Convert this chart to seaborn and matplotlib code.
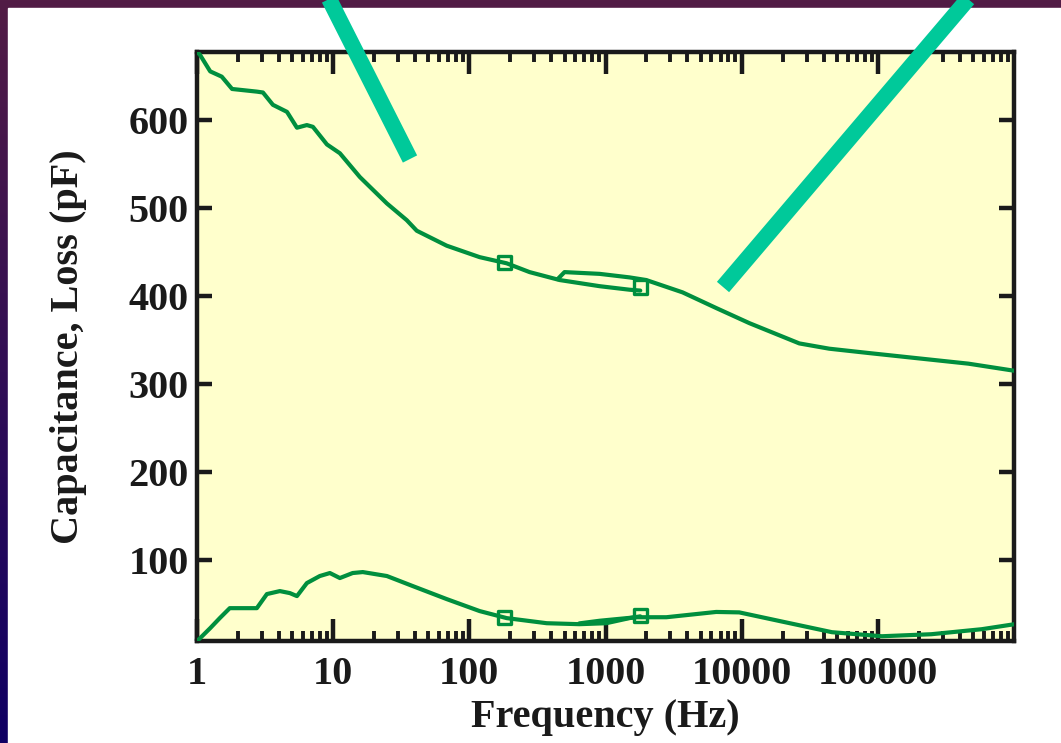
import numpy as np
import pandas as pd
import matplotlib
matplotlib.use("Agg")
import matplotlib.pyplot as plt
from matplotlib.lines import Line2D
from matplotlib.patches import Rectangle
from matplotlib.colors import LinearSegmentedColormap
from matplotlib.ticker import FixedLocator, LogLocator, NullFormatter, FixedFormatter
import seaborn as sns

# capacitance, low-frequency sweep (Hz, pF)
cap_lo_freq = [1.0, 1.05, 1.25, 1.52, 1.81, 2.75, 3.05, 3.61, 4.58, 5.42, 6.41, 7.10,
               9.0, 11.2, 15.7, 24.8, 34.7, 41.1, 68.2, 119, 188, 277, 460, 906, 1500, 1800]
cap_lo_val = [677, 674, 655, 649, 635, 632, 631, 617, 609, 591, 594, 592,
              572, 562, 535, 505, 486, 474, 457, 444, 437, 427, 418, 411, 407, 406]

# capacitance, high-frequency sweep
cap_hi_freq = [445, 500, 906, 1500, 1990, 3680, 6540, 11400, 26500, 44000, 86700,
               200000, 463000, 1000000]
cap_hi_val = [419, 427, 425, 421, 418, 404, 386, 369, 346, 340, 335, 329, 323, 315]

# loss, low-frequency sweep
loss_lo_freq = [1.0, 1.05, 1.25, 1.47, 1.74, 2.45, 2.75, 3.26, 4.06, 4.81, 5.42, 6.41,
                7.98, 9.46, 11.2, 13.9, 16.5, 24.8, 38.4, 68.2, 119, 188, 370, 642,
                1012, 1500, 1800]
loss_lo_val = [8, 11, 22.6, 34, 45.3, 45.3, 45.3, 61.3, 64.7, 62.4, 59, 73.8,
               81.8, 85.2, 79.5, 85.2, 86.3, 81.8, 70.4, 55.6, 42, 34, 28.2, 27.1,
               28.2, 34, 36]

# loss, high-frequency sweep
loss_hi_freq = [642, 906, 1680, 2800, 6500, 9600, 19900, 46000, 107000, 247000,
                580000, 1000000]
loss_hi_val = [28, 31, 35, 35, 41, 40.5, 30, 18, 13.4, 15.7, 21.4, 27]

# overlap points marked with squares
mark_freq = [180, 1800, 180, 1800]
mark_val = [438, 410, 35, 37]

x_ticks = [1, 10, 100, 1000, 10000, 100000]
x_tick_labels = ["1", "10", "100", "1000", "10000", "100000"]
y_ticks = [100, 200, 300, 400, 500, 600]

GREEN = "#008f3e"
TEAL = "#00c99a"

sns.set_style("ticks")
plt.rcParams["font.family"] = ["Liberation Serif", "DejaVu Serif"]
plt.rcParams["font.weight"] = "bold"

W, H = 1061, 743
fig = plt.figure(figsize=(W / 100, H / 100), dpi=100)

# backdrop: purple-to-navy frame with white slide panel
bg = fig.add_axes([0, 0, 1, 1])
cmap = LinearSegmentedColormap.from_list("frame", ["#100064", "#521c45"])
bg.imshow(np.linspace(0, 1, 256).reshape(-1, 1), aspect="auto", cmap=cmap,
          extent=[0, 1, 0, 1], origin="lower")
bg.add_patch(Rectangle((8 / W, 0), 1, 1 - 8 / H, color="white"))
bg.set_xlim(0, 1)
bg.set_ylim(0, 1)
bg.axis("off")

ax = fig.add_axes([197 / W, 1 - 641 / H, (1014 - 197) / W, (641 - 52) / H])
ax.set_facecolor("#ffffcc")

curves = [(cap_lo_freq, cap_lo_val), (cap_hi_freq, cap_hi_val),
          (loss_lo_freq, loss_lo_val), (loss_hi_freq, loss_hi_val)]
for f, v in curves:
    df = pd.DataFrame({"freq": f, "val": v})
    sns.lineplot(data=df, x="freq", y="val", color=GREEN, lw=3.0, ax=ax,
                 estimator=None, sort=False, zorder=3)

marks = pd.DataFrame({"freq": mark_freq, "val": mark_val})
sns.scatterplot(data=marks, x="freq", y="val", marker="s", s=90, facecolor="none",
                edgecolor=GREEN, linewidth=2.4, ax=ax, zorder=4)

ax.set_xscale("log")
ax.set_xlim(1, 1e6)
ax.set_ylim(8, 677)
ax.xaxis.set_major_locator(FixedLocator(x_ticks))
ax.xaxis.set_major_formatter(FixedFormatter(x_tick_labels))
ax.xaxis.set_minor_locator(LogLocator(base=10, subs=np.arange(2, 10)))
ax.xaxis.set_minor_formatter(NullFormatter())
ax.set_yticks(y_ticks)

for s in ax.spines.values():
    s.set_linewidth(3.2)
    s.set_color("#1a1a1a")
ax.tick_params(axis="both", which="both", direction="in", top=True, right=True,
               color="#1a1a1a", labelsize=29, labelcolor="#1a1a1a")
ax.tick_params(axis="x", which="major", length=16, width=3.2, pad=11)
ax.tick_params(axis="x", which="minor", length=7, width=2.8)
ax.tick_params(axis="y", which="major", length=11, width=3.2, pad=6)

ax.set_xlabel("Frequency (Hz)", fontsize=29, fontweight="bold", color="#1a1a1a", labelpad=4)
ax.set_ylabel("Capacitance, Loss (pF)", fontsize=29, fontweight="bold", color="#1a1a1a",
              labelpad=30)

# thick pointer strokes coming down from the slide header
px = lambda x, y: (x / W, 1 - y / H)
for (x0, y0), (x1, y1) in [((322, -15), (410, 159)), ((980, -15), (723, 287))]:
    a, b = px(x0, y0), px(x1, y1)
    fig.add_artist(Line2D([a[0], b[0]], [a[1], b[1]], color=TEAL, lw=11.5,
                          solid_capstyle="butt", transform=fig.transFigure, zorder=10))

fig.savefig("out.png", dpi=100)
